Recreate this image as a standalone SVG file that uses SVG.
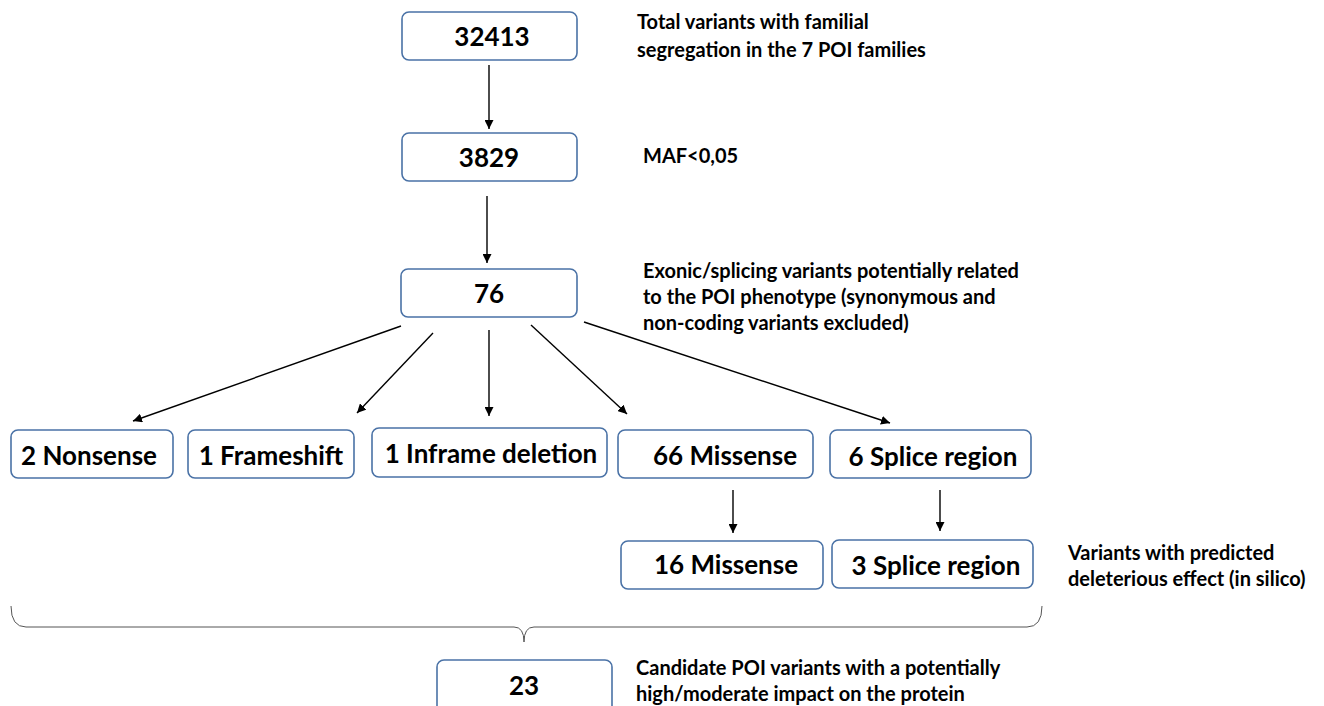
<svg xmlns="http://www.w3.org/2000/svg" width="1324" height="706" viewBox="0 0 1324 706">
<style>
.box{fill:#fff;stroke:#4a72a6;stroke-width:1.6}
.bt{font-family:Lato,"Liberation Sans",sans-serif;font-weight:bold;font-size:26px;fill:#000;text-anchor:middle}
.nt{font-family:Lato,"Liberation Sans",sans-serif;font-weight:bold;font-size:20px;fill:#000}
.c{stroke:#000;stroke-width:1.4;fill:none}
</style>
<defs>
<marker id="ah" viewBox="0 0 10 10" refX="10" refY="5" markerWidth="9" markerHeight="9" markerUnits="userSpaceOnUse" orient="auto"><path d="M0,0 L10,5 L0,10 z" fill="#000"/></marker>
</defs>
<g id="n32413"><rect class="box" x="402" y="12" width="175" height="48" rx="7"/><text class="bt" x="492" y="46">32413</text></g>
<g id="n3829"><rect class="box" x="402" y="133" width="175" height="48" rx="7"/><text class="bt" x="489" y="167">3829</text></g>
<g id="n76"><rect class="box" x="401" y="269" width="176" height="48" rx="7"/><text class="bt" x="489" y="303">76</text></g>
<g id="nNonsense"><rect class="box" x="11" y="430" width="162" height="48" rx="7"/><text class="bt" x="89" y="465">2 Nonsense</text></g>
<g id="nFrameshift"><rect class="box" x="188" y="430" width="166" height="48" rx="7"/><text class="bt" x="271" y="465">1 Frameshift</text></g>
<g id="nInframe"><rect class="box" x="372" y="428" width="235" height="49" rx="7"/><text class="bt" x="491" y="463">1 Inframe deletion</text></g>
<g id="nMissense66"><rect class="box" x="618" y="430" width="195" height="48" rx="7"/><text class="bt" x="725" y="465">66 Missense</text></g>
<g id="nSplice6"><rect class="box" x="830" y="430" width="201" height="48" rx="7"/><text class="bt" x="933" y="466">6 Splice region</text></g>
<g id="nMissense16"><rect class="box" x="621" y="541" width="202" height="48" rx="7"/><text class="bt" x="726" y="574">16 Missense</text></g>
<g id="nSplice3"><rect class="box" x="832" y="540" width="201" height="48" rx="7"/><text class="bt" x="936" y="575">3 Splice region</text></g>
<g id="n23"><rect class="box" x="437" y="660" width="175" height="56" rx="7"/><text class="bt" x="524" y="695">23</text></g>
<g id="notes">
<text class="nt" x="637" y="29">Total variants with familial</text>
<text class="nt" x="637" y="57">segregation in the 7 POI families</text>
<text class="nt" x="643" y="163">MAF&lt;0,05</text>
<text class="nt" x="643" y="278">Exonic/splicing variants potentially related</text>
<text class="nt" x="643" y="304">to the POI phenotype (synonymous and</text>
<text class="nt" x="643" y="330">non-coding variants excluded)</text>
<text class="nt" x="1068" y="560">Variants with predicted</text>
<text class="nt" x="1068" y="586">deleterious effect (in silico)</text>
<text class="nt" x="636" y="675">Candidate POI variants with a potentially</text>
<text class="nt" x="636" y="701">high/moderate impact on the protein</text>
</g>
<g id="connectors">
<line class="c" x1="489" y1="65" x2="489" y2="129" marker-end="url(#ah)"/>
<line class="c" x1="487" y1="196" x2="487" y2="263" marker-end="url(#ah)"/>
<line class="c" x1="401" y1="326" x2="133" y2="421" stroke-width="1" marker-end="url(#ah)"/>
<line class="c" x1="433" y1="333" x2="357" y2="413" marker-end="url(#ah)"/>
<line class="c" x1="489" y1="330" x2="489" y2="416" stroke-width="1" marker-end="url(#ah)"/>
<line class="c" x1="531" y1="325" x2="627" y2="414" marker-end="url(#ah)"/>
<line class="c" x1="584" y1="322" x2="890" y2="423" marker-end="url(#ah)"/>
<line class="c" x1="733" y1="490" x2="733" y2="533" marker-end="url(#ah)"/>
<line class="c" x1="940" y1="490" x2="940" y2="531" marker-end="url(#ah)"/>
<path d="M11,606 Q11,627 26,627 L514,627 Q524,627 524,642 Q524,627 534,627 L1027,627 Q1042,627 1042,606" fill="none" stroke="#555" stroke-width="1"/>
</g>
</svg>
